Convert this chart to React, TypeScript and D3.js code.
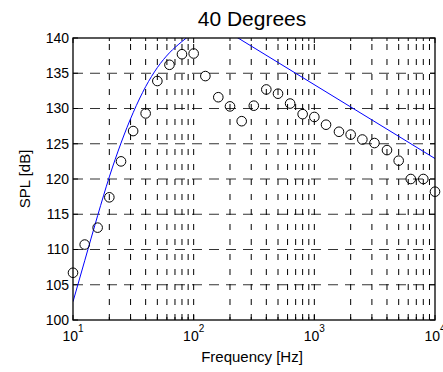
import React from "react";
import * as d3 from "d3";

const freqs = [10, 12.5, 16, 20, 25, 31.5, 40, 50, 63, 80, 100, 125, 160, 200, 250, 315, 400, 500, 630, 800, 1000, 1250, 1600, 2000, 2500, 3150, 4000, 5000, 6300, 8000, 10000];
const measured = [106.7, 110.7, 113.1, 117.4, 122.5, 126.8, 129.3, 133.9, 136.2, 137.7, 137.8, 134.6, 131.6, 130.3, 128.2, 130.4, 132.7, 132.1, 130.7, 129.2, 128.8, 127.7, 126.7, 126.3, 125.6, 125.1, 124.1, 122.6, 120.0, 120.0, 118.2];

const lowFreqs = [10, 12.5, 16, 20, 25, 31.5, 40, 50, 63, 80, 100];
const lowModel = [102.6, 108.4, 114.8, 120.3, 125.1, 129.4, 133.1, 135.8, 137.9, 139.5, 140.8];

const highFreqs = [200, 10000];
const highModel = [140.7, 122.9];

const yTicks = [100, 105, 110, 115, 120, 125, 130, 135, 140];
const decades = [10, 100, 1000, 10000];
const decadeExp = ["1", "2", "3", "4"];

const W = 443, H = 372;
const L = 73, R = 435, T = 38, B = 320;
const font = "'Liberation Sans', Arial, Helvetica, sans-serif";

export default function App() {
  const x = d3.scaleLog().domain([10, 10000]).range([L, R]);
  const y = d3.scaleLinear().domain([100, 140]).range([B, T]);

  const gridX: number[] = [];
  for (let d = 10; d < 10000; d *= 10) {
    for (let k = 2; k <= 10; k++) if (d * k < 10000) gridX.push(d * k);
  }
  const allMinor: number[] = [];
  for (let d = 10; d < 10000; d *= 10) for (let k = 2; k <= 9; k++) allMinor.push(d * k);

  const line = d3
    .line<[number, number]>()
    .x((d) => x(d[0]))
    .y((d) => y(d[1]))
    .curve(d3.curveMonotoneX);
  const lowPath = line(lowFreqs.map((f, i) => [f, lowModel[i]] as [number, number])) || "";
  const highPath =
    d3
      .line<[number, number]>()
      .x((d) => x(d[0]))
      .y((d) => y(d[1]))(highFreqs.map((f, i) => [f, highModel[i]] as [number, number])) || "";

  return (
    <div style={{ position: "absolute", left: 0, top: 0 }}>
      <svg width={W} height={H} style={{ display: "block", background: "#fff" }} fontFamily={font}>
        <defs>
          <clipPath id="plotclip">
            <rect x={L} y={T} width={R - L} height={B - T} />
          </clipPath>
        </defs>
        <rect x={0} y={0} width={W} height={H} fill="#fff" />
        {yTicks
          .filter((v) => v > 100 && v < 140)
          .map((v) => (
            <line key={"h" + v} x1={L} x2={R} y1={y(v)} y2={y(v)} stroke="#333" strokeWidth={1} strokeDasharray="10,7" />
          ))}
        {gridX.map((f) => (
          <line key={"v" + f} x1={x(f)} x2={x(f)} y1={B} y2={T} stroke="#000" strokeWidth={1} strokeDasharray="6,9" />
        ))}
        {allMinor.map((f) => (
          <g key={"t" + f}>
            <line x1={x(f)} x2={x(f)} y1={B} y2={B - 3} stroke="#000" />
            <line x1={x(f)} x2={x(f)} y1={T} y2={T + 3} stroke="#000" />
          </g>
        ))}
        {decades.map((f) => (
          <g key={"d" + f}>
            <line x1={x(f)} x2={x(f)} y1={B} y2={B - 5} stroke="#000" />
            <line x1={x(f)} x2={x(f)} y1={T} y2={T + 5} stroke="#000" />
          </g>
        ))}
        {yTicks.map((v) => (
          <g key={"yt" + v}>
            <line x1={L} x2={L + 5} y1={y(v)} y2={y(v)} stroke="#000" />
            <line x1={R} x2={R - 5} y1={y(v)} y2={y(v)} stroke="#000" />
          </g>
        ))}
        <g clipPath="url(#plotclip)">
          <path d={lowPath} fill="none" stroke="#0000ff" strokeWidth={1} />
          <path d={highPath} fill="none" stroke="#0000ff" strokeWidth={1} />
        </g>
        {freqs.map((f, i) => (
          <circle key={"c" + f} cx={x(f)} cy={y(measured[i])} r={4.8} fill="none" stroke="#000" strokeWidth={1} />
        ))}
        <rect x={L} y={T} width={R - L} height={B - T} fill="none" stroke="#000" strokeWidth={1.3} />
        {yTicks.map((v) => (
          <text key={"yl" + v} x={L - 4} y={y(v)} dy="0.35em" textAnchor="end" fontSize={14} fill="#000">
            {v}
          </text>
        ))}
        {decades.map((f, i) => (
          <text key={"xl" + f} x={x(f)} y={341} textAnchor="middle" fontSize={14} fill="#000">
            10
            <tspan fontSize={10} dy={-9}>
              {decadeExp[i]}
            </tspan>
          </text>
        ))}
        <text x={252} y={26} textAnchor="middle" fontSize={21} fill="#000">
          40 Degrees
        </text>
        <text x={252} y={362} textAnchor="middle" fontSize={15} fill="#000">
          Frequency [Hz]
        </text>
        <text transform={`translate(30,${(T + B) / 2}) rotate(-90)`} textAnchor="middle" fontSize={15} fill="#000">
          SPL [dB]
        </text>
      </svg>
    </div>
  );
}
